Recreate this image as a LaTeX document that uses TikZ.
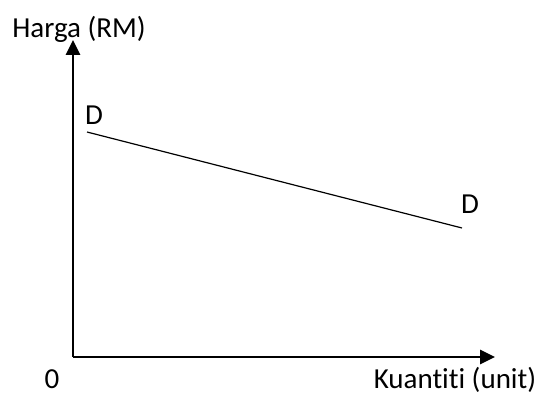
\documentclass[tikz,border=0pt]{standalone}
\usepackage{fontspec}
\setmainfont[Ligatures=NoCommon]{Carlito}
\usetikzlibrary{positioning,arrows.meta}

\begin{document}
\begin{tikzpicture}[
    x=1pt, y=-1pt,
    lbl/.style={font=\fontsize{29}{32}\selectfont, inner sep=0pt},
    axis/.style={-{Triangle[length=15pt,width=14pt]}, line width=2.6pt},
    curve/.style={line width=1.2pt},
]
\useasboundingbox (0,0) rectangle (542,396);

% ===== Axes =====
\coordinate (o) at (73,357);
\coordinate (ytip) at (73,40);
\coordinate (xtip) at (495,357);
\draw[axis] (o) -- (ytip);
\draw[axis] (o) -- (xtip);

% ===== Axis labels =====
\node[lbl] at (79,29) (harga) {Harga (RM)};
\node[lbl] at (52,379) (zero) {0};
\node[lbl] at (455,380) (kuantiti) {Kuantiti (unit)};

% ===== Demand curve =====
\coordinate (d1) at (87,132);
\coordinate (d2) at (462,228);
\draw[curve] (d1) -- (d2);
\node[lbl] at (94,115) (dA) {D};
\node[lbl] at (470,204) (dB) {D};

\end{tikzpicture}
\end{document}
